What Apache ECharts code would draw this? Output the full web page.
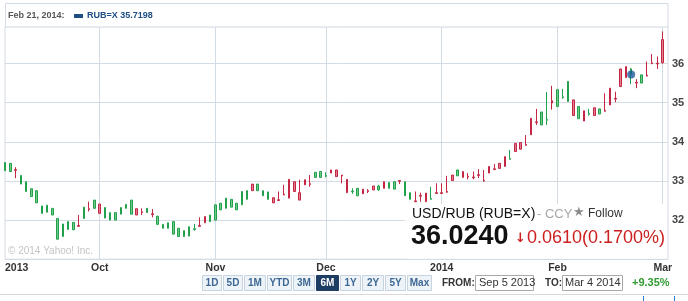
<!DOCTYPE html>
<html>
<head>
<meta charset="utf-8">
<script src="https://cdn.jsdelivr.net/npm/echarts@6/dist/echarts.min.js"></script>
<style>
html,body{margin:0;padding:0;background:#fff;}
#chart{width:688px;height:301px;}
</style>
</head>
<body>
<div id="chart"></div>
<script>
// ---- data ----
const dates = [
'2013-09-05','2013-09-06','2013-09-09','2013-09-10','2013-09-11','2013-09-12','2013-09-13','2013-09-16','2013-09-17','2013-09-18',
'2013-09-19','2013-09-20','2013-09-23','2013-09-24','2013-09-25','2013-09-26','2013-09-27','2013-09-30',
'2013-10-01','2013-10-02','2013-10-03','2013-10-04','2013-10-07','2013-10-08','2013-10-09','2013-10-10','2013-10-11','2013-10-15',
'2013-10-16','2013-10-17','2013-10-18','2013-10-21','2013-10-22','2013-10-23','2013-10-24','2013-10-25','2013-10-28','2013-10-29',
'2013-10-30','2013-10-31',
'2013-11-01','2013-11-04','2013-11-05','2013-11-06','2013-11-07','2013-11-08','2013-11-11','2013-11-12','2013-11-13','2013-11-14',
'2013-11-15','2013-11-18','2013-11-19','2013-11-20','2013-11-21','2013-11-22','2013-11-25','2013-11-26','2013-11-27','2013-11-28',
'2013-11-29',
'2013-12-02','2013-12-03','2013-12-04','2013-12-05','2013-12-06','2013-12-09','2013-12-10','2013-12-11','2013-12-12','2013-12-13',
'2013-12-16','2013-12-17','2013-12-18','2013-12-19','2013-12-20','2013-12-23','2013-12-24','2013-12-25','2013-12-26','2013-12-27',
'2013-12-30','2013-12-31',
'2014-01-02','2014-01-03','2014-01-06','2014-01-07','2014-01-08','2014-01-09','2014-01-10','2014-01-13','2014-01-14','2014-01-15',
'2014-01-16','2014-01-17','2014-01-20','2014-01-21','2014-01-22','2014-01-23','2014-01-24','2014-01-27','2014-01-28','2014-01-29',
'2014-01-30','2014-01-31',
'2014-02-03','2014-02-04','2014-02-05','2014-02-06','2014-02-07','2014-02-10','2014-02-11','2014-02-12','2014-02-13','2014-02-14',
'2014-02-17','2014-02-18','2014-02-19','2014-02-20','2014-02-21','2014-02-24','2014-02-25','2014-02-26','2014-02-27','2014-02-28',
'2014-03-03','2014-03-04'
];
const opens = [
33.47,33.45,33.27,33.14,32.98,32.80,32.75,32.36,32.38,32.30,32.04,31.90,31.96,31.94,31.84,32.33,32.27,32.51,32.17,32.32,
32.19,32.19,32.32,32.40,32.51,32.13,32.19,32.30,32.14,32.10,31.89,31.93,31.96,31.79,31.73,31.83,31.78,31.84,31.93,32.13,
32.39,32.43,32.56,32.53,32.43,32.73,32.75,32.75,32.92,32.75,32.72,32.44,32.50,32.64,32.56,32.73,32.51,32.90,32.91,33.22,
33.24,33.14,33.20,33.11,33.13,32.70,32.74,32.81,32.67,32.73,32.77,32.87,32.81,32.96,32.98,32.99,32.98,32.70,32.47,32.61,
32.47,32.55,32.68,32.68,32.71,33.01,33.28,33.09,33.10,33.08,33.14,33.00,33.20,33.29,33.32,33.37,33.57,33.75,33.81,33.91,
34.18,34.49,34.76,34.57,34.99,35.33,35.15,35.54,34.67,34.90,34.53,34.72,34.67,34.84,34.78,34.94,35.09,35.41,35.64,35.86,
35.50,35.71,35.68,36.00,35.99,36.02
];
const closes = [
33.26,33.24,33.29,32.92,32.73,32.60,32.44,32.17,32.20,32.13,31.51,31.58,31.76,31.75,31.86,32.04,32.29,32.30,32.41,32.05,
32.00,32.00,32.15,32.30,32.15,32.29,32.21,32.19,32.16,31.89,31.79,31.79,31.64,31.58,31.58,31.59,31.76,31.86,32.09,31.96,
32.00,32.26,32.30,32.33,32.26,32.39,32.53,32.92,32.75,32.62,32.53,32.57,32.52,32.66,33.04,32.98,32.70,33.03,32.93,33.09,
33.09,33.12,33.28,33.28,33.15,33.04,32.72,32.62,32.79,32.75,32.87,32.77,32.98,32.81,32.79,33.01,32.62,32.53,32.49,32.63,
32.69,32.53,32.70,32.70,32.73,33.15,33.13,33.24,33.12,33.10,33.16,33.02,33.37,33.31,33.45,33.62,33.55,33.96,33.98,33.93,
34.60,34.51,34.43,34.55,35.05,34.90,35.13,35.03,35.07,34.59,34.79,34.70,34.87,34.71,34.80,35.37,35.11,35.86,35.92,35.72,
35.52,35.50,35.70,36.02,36.01,36.61
];
const lows = [
33.26,33.24,33.07,32.92,32.73,32.60,32.44,32.17,32.20,32.13,31.51,31.58,31.76,31.75,31.83,32.04,32.22,32.30,32.17,32.05,
32.00,32.00,32.15,32.30,32.15,32.13,32.13,32.19,32.07,31.89,31.79,31.79,31.64,31.58,31.58,31.59,31.73,31.83,31.93,31.96,
32.00,32.26,32.30,32.33,32.26,32.39,32.53,32.75,32.75,32.62,32.53,32.44,32.50,32.64,32.56,32.73,32.51,32.90,32.85,33.09,
33.09,33.09,33.20,33.11,32.94,32.70,32.67,32.62,32.67,32.69,32.77,32.75,32.81,32.81,32.79,32.92,32.62,32.53,32.47,32.47,
32.47,32.53,32.67,32.67,32.70,33.01,33.13,33.09,33.04,33.04,33.07,32.98,33.20,33.28,33.32,33.37,33.55,33.75,33.81,33.90,
34.18,34.43,34.43,34.43,34.82,34.90,35.10,35.03,34.67,34.59,34.53,34.67,34.67,34.71,34.77,34.94,35.01,35.41,35.64,35.47,
35.37,35.50,35.67,35.98,35.86,36.00
];
const highs = [
33.47,33.45,33.35,33.14,32.98,32.80,32.75,32.36,32.38,32.30,32.04,31.90,31.96,31.94,32.13,32.33,32.47,32.51,32.41,32.32,
32.19,32.19,32.32,32.40,32.51,32.29,32.30,32.30,32.28,32.10,31.89,31.93,31.96,31.79,31.73,31.83,31.90,32.07,32.09,32.13,
32.39,32.43,32.56,32.53,32.43,32.73,32.75,32.92,32.92,32.75,32.72,32.57,32.73,32.90,33.04,32.98,33.03,33.03,33.15,33.22,
33.24,33.22,33.28,33.28,33.15,33.04,32.81,32.81,32.79,32.79,32.87,32.90,32.98,32.96,32.98,33.01,32.98,32.70,32.73,32.70,
32.69,32.85,32.94,32.94,33.13,33.15,33.28,33.24,33.20,33.24,33.30,33.28,33.37,33.43,33.45,33.62,33.79,33.96,33.98,34.17,
34.60,34.84,34.76,35.27,35.43,35.33,35.35,35.54,35.07,34.90,34.79,34.84,34.87,34.84,35.24,35.37,35.28,35.86,35.92,35.88,
35.60,35.71,36.05,36.24,36.18,36.82
];
const highlightDate = '2014-02-21';
const highlightClose = 35.7198;
const monthNames = ['Jan','Feb','Mar','Apr','May','Jun','Jul','Aug','Sep','Oct','Nov','Dec'];
const yMin = 31, yMax = 36.94, yStep = 1;

// ---- build ----
const candles = dates.map((d, i) => i < opens.length ? [opens[i], closes[i], lows[i], highs[i]] : '-');
function isMonthStart(i) {
  if (i === 0) return false;
  return dates[i].slice(0, 7) !== dates[i - 1].slice(0, 7);
}
function labelFor(i) {
  const d = dates[i];
  const m = parseInt(d.slice(5, 7), 10) - 1;
  if (i === 0 || m === 0) return d.slice(0, 4);
  return monthNames[m];
}

const FONT = '"Liberation Sans", Arial, sans-serif';
const chart = echarts.init(document.getElementById('chart'), null, {renderer: 'canvas'});

const mid = {textVerticalAlign:'middle', verticalAlign:'middle'};
function txt(text, x, y, font, fill, z, extra) {
  return {type:'text', style:Object.assign({text, x, y, font, fill}, mid, extra || {}), z: z || 2};
}
const buttons = [['1D',202,20],['5D',223,20],['1M',244,22],['YTD',267,25],['3M',293,22],['6M',316,23],['1Y',340,21],['2Y',362,22],['5Y',385,21],['Max',407,25]];
const graphics = [
  {type:'rect', shape:{x:5.5, y:3.5, width:662.5, height:23.5}, style:{fill:'#fff', stroke:'#d3dbe4', lineWidth:1}, z:1},
  txt('Feb 21, 2014:', 8, 16, 'bold 9px ' + FONT, '#555'),
  {type:'rect', shape:{x:74, y:14, width:9, height:4}, style:{fill:'#1f4e84'}, z:2},
  txt('RUB=X 35.7198', 87, 16, 'bold 9px ' + FONT, '#1f4e84'),
  txt('\u00a9 2014 Yahoo! Inc.', 8, 251, '10px ' + FONT, '#c4c4c4'),
  {type:'rect', shape:{x:405, y:204, width:262, height:54.5}, style:{fill:'#fff'}, z:50},
  txt('USD/RUB (RUB=X)', 412, 214, '14px ' + FONT, '#111', 51),
  txt('- CCY', 537, 214, '13px ' + FONT, '#a8a8a8', 51),
  txt('\u2605', 573, 213, '13px "DejaVu Sans", sans-serif', '#8a8a8a', 51),
  txt('Follow', 588, 214, '12px ' + FONT, '#333', 51),
  txt('36.0240', 411, 237, 'bold 27px ' + FONT, '#111', 51),
  txt('\u2193', 515, 239, 'bold 13px "DejaVu Sans", sans-serif', '#cc1f1f', 51),
  txt('0.0610(0.1700%)', 527, 238, '18px ' + FONT, '#cc1f1f', 51),
  txt('FROM:', 442, 283, 'bold 10px ' + FONT, '#333'),
  {type:'rect', shape:{x:475.5, y:275.5, width:58, height:15}, style:{fill:'#fff', stroke:'#a9a9a9', lineWidth:1}, z:2},
  txt('Sep 5 2013', 479, 283, '11px ' + FONT, '#333', 3),
  txt('TO:', 545, 283, 'bold 10px ' + FONT, '#333'),
  {type:'rect', shape:{x:562.5, y:275.5, width:60, height:15}, style:{fill:'#fff', stroke:'#a9a9a9', lineWidth:1}, z:2},
  txt('Mar 4 2014', 565, 283, '11px ' + FONT, '#333', 3),
  txt('+9.35%', 632, 283, 'bold 11px ' + FONT, '#2f9a2f'),
  {type:'line', shape:{x1:0, y1:294.5, x2:688, y2:294.5}, style:{stroke:'#d8d8d8', lineWidth:1}, z:1},
  {type:'line', shape:{x1:643.5, y1:296, x2:643.5, y2:301}, style:{stroke:'#2a7ad0', lineWidth:1}, z:1},
  {type:'line', shape:{x1:674.5, y1:296, x2:674.5, y2:301}, style:{stroke:'#2a7ad0', lineWidth:1}, z:1}
];
buttons.forEach(([t, x, w]) => {
  const sel = t === '6M';
  graphics.push({type:'rect', shape:{x:x + 0.5, y:275.5, width:w - 1, height:15}, style:{fill: sel ? '#1d3d63' : '#eef3f8', stroke: sel ? '#1d3d63' : '#c6d3e0', lineWidth:1}, z:2});
  graphics.push(txt(t, x + w / 2, 283, 'bold 10px ' + FONT, sel ? '#fff' : '#3d6894', 3, {textAlign:'center', align:'center'}));
});

chart.setOption({
  animation: false,
  backgroundColor: '#fff',
  grid: {left: 5, right: 20, top: 26.7, bottom: 41.8, show: true, borderColor: '#d3dbe4', borderWidth: 1, backgroundColor: 'transparent'},
  xAxis: {
    type: 'category',
    data: dates,
    boundaryGap: false,
    axisLine: {show: false},
    axisTick: {show: false},
    splitLine: {show: true, interval: (i) => isMonthStart(i), lineStyle: {color: '#d3dbe4', width: 1}},
    axisLabel: {
      interval: (i) => i === 0 || isMonthStart(i),
      formatter: (v, i) => labelFor(i),
      color: '#333', fontFamily: FONT, fontWeight: 'bold', fontSize: 10.5, margin: 3,
      alignMinLabel: 'left', showMinLabel: true
    }
  },
  yAxis: {
    type: 'value', position: 'right', min: yMin, max: yMax, interval: yStep, scale: true,
    axisLine: {show: false}, axisTick: {show: false},
    splitLine: {show: true, lineStyle: {color: '#d3dbe4', width: 1}},
    axisLabel: {showMinLabel: false, showMaxLabel: false, color: '#444', fontFamily: FONT, fontWeight: 'bold', fontSize: 11, margin: 4}
  },
  series: [
    {
      type: 'candlestick',
      data: candles,
      barWidth: 2,
      itemStyle: {color: '#e07e90', color0: '#72c98b', borderColor: '#c42643', borderColor0: '#22a14c', borderWidth: 1}
    },
    {
      type: 'scatter',
      data: [[highlightDate, highlightClose]],
      symbolSize: 8,
      itemStyle: {color: '#1d5a98'},
      z: 5
    }
  ],
  graphic: {elements: graphics}
});
</script>
</body>
</html>
